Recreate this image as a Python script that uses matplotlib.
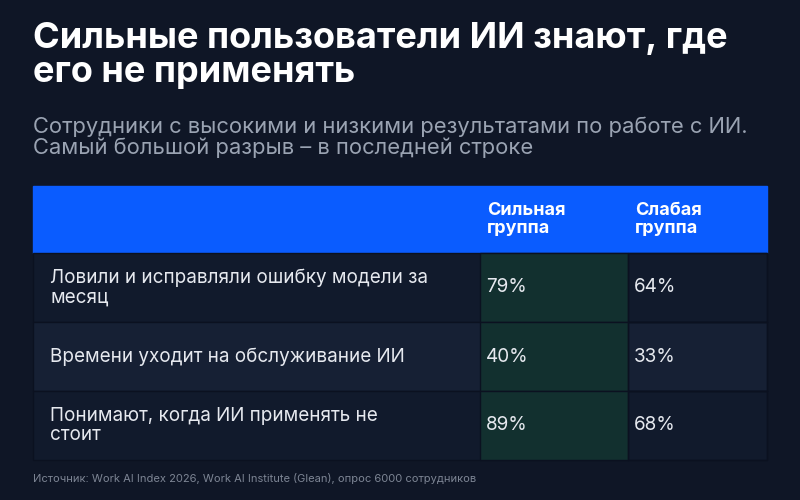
import matplotlib.pyplot as plt
from matplotlib.patches import Rectangle

plt.rcParams['font.family'] = ['Inter', 'DejaVu Sans']

title = "Сильные пользователи ИИ знают, где\nего не применять"
subtitle = "Сотрудники с высокими и низкими результатами по работе с ИИ.\nСамый большой разрыв – в последней строке"
source = "Источник: Work AI Index 2026, Work AI Institute (Glean), опрос 6000 сотрудников"
headers = ["", "Сильная\nгруппа", "Слабая\nгруппа"]
rows = ["Ловили и исправляли ошибку модели за\nмесяц",
        "Времени уходит на обслуживание ИИ",
        "Понимают, когда ИИ применять не\nстоит"]
strong = [79, 40, 89]
weak = [64, 33, 68]

bg = "#0f1626"
fig = plt.figure(figsize=(8, 5), dpi=100, facecolor=bg)
ax = fig.add_axes([0, 0, 1, 1])
ax.set_xlim(0, 800)
ax.set_ylim(500, 0)
ax.axis("off")

ax.text(33, 22, title, color="white", fontsize=26, fontweight="bold", va="top", linespacing=1.05)
ax.text(33, 117, subtitle, color="#9aa3b2", fontsize=15.8, va="top", linespacing=1.0)

cols = [33, 480, 628, 767]
top, head_h, row_h = 186, 67, 69
ax.add_patch(Rectangle((cols[0], top), cols[3] - cols[0], head_h, color="#0a5cff", zorder=1))
for j, h in enumerate(headers):
    ax.text(cols[j] + 7, top + head_h / 2, h, color="white", fontsize=13, fontweight="bold",
            va="center", linespacing=1.15)

row_bg = ["#111a2c", "#162034", "#111a2c"]
for i, lab in enumerate(rows):
    y = top + head_h + i * row_h
    ax.add_patch(Rectangle((cols[0], y), cols[3] - cols[0], row_h, facecolor=row_bg[i],
                           edgecolor="#0b1120", lw=1, zorder=1))
    ax.add_patch(Rectangle((cols[1], y), cols[2] - cols[1], row_h, facecolor="#12302f",
                           edgecolor="#0b1120", lw=1, zorder=2))
    ax.add_patch(Rectangle((cols[2], y), cols[3] - cols[2], row_h, facecolor="none",
                           edgecolor="#0b1120", lw=1, zorder=2))
    ax.text(cols[0] + 17, y + row_h / 2, lab, color="#e6e9ef", fontsize=13.6, va="center", linespacing=1.1, zorder=3)
    ax.text(cols[1] + 6, y + row_h / 2, f"{strong[i]}%", color="#e6e9ef", fontsize=13.6, va="center", zorder=3)
    ax.text(cols[2] + 6, y + row_h / 2, f"{weak[i]}%", color="#e6e9ef", fontsize=13.6, va="center", zorder=3)

ax.text(33, 479, source, color="#7d8594", fontsize=8, va="center")

fig.savefig("out.png", dpi=100, facecolor=bg)
